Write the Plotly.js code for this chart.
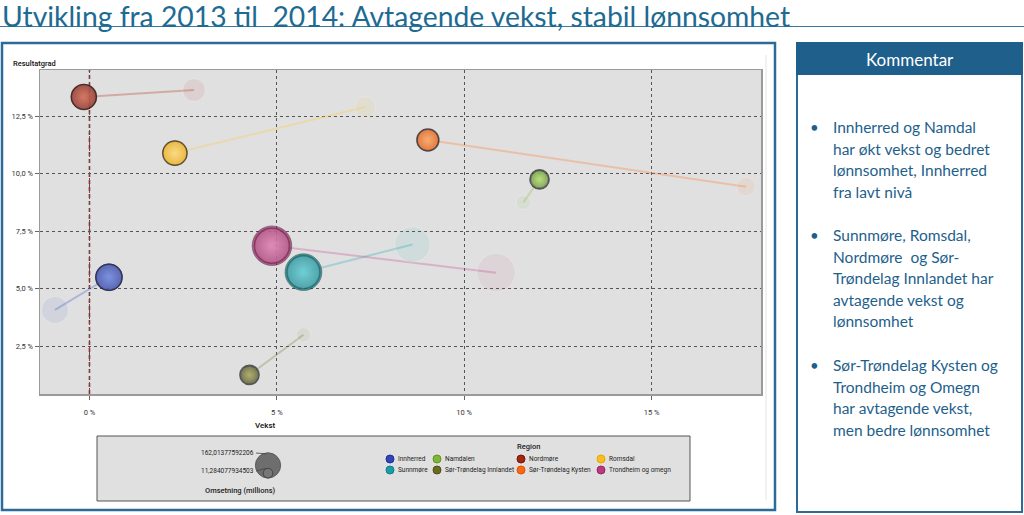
<!DOCTYPE html>
<html><head><meta charset="utf-8">
<script src="https://cdn.plot.ly/plotly-3.0.1.min.js"></script>
<style>html,body{margin:0;padding:0;background:#fff;overflow:hidden}#chart{width:1024px;height:515px}</style>
</head><body><div id="chart"></div>
<script>
// ---------- data ----------
const regions = ['Innherred','Namdalen','Nordmøre','Romsdal','Sunnmøre','Sør-Trøndelag Innlandet','Sør-Trøndelag Kysten','Trondheim og omegn'];
const vekst2013     = [-0.92, 11.58,  2.79,  7.36, 8.62, 5.71, 17.52, 10.85];
const resultat2013  = [ 4.08,  8.75, 13.63, 12.89, 6.92, 3.00,  9.43,  5.70];
const vekst2014     = [ 0.52, 12.01, -0.15,  2.28, 5.71, 4.27,  9.03,  4.87];
const resultat2014  = [ 5.50,  9.75, 13.33, 10.89, 5.72, 1.26, 11.46,  6.87];
const omsetning2013 = [75, 21, 53, 46, 129, 21, 35, 151];
const omsetning2014 = [75, 30, 67, 60, 140, 30, 46, 162];
const xTickVals = [0, 5, 10, 15];
const xTickText = ['0 %', '5 %', '10 %', '15 %'];
const yTickVals = [2.5, 5, 7.5, 10, 12.5];
const yTickText = ['2,5 %', '5,0 %', '7,5 %', '10,0 %', '12,5 %'];
const sizeLegendValues = [162.01377592206, 11.284077934503];
const sizeLegendLabels = ['162,01377592206', '11,284077934503'];
const titleText = 'Utvikling fra 2013 til\u00a0 2014: Avtagende vekst, stabil lønnsomhet';
const commentBlocks = [
  ['Innherred og Namdal', 'har økt vekst og bedret', 'lønnsomhet, Innherred', 'fra lavt nivå'],
  ['Sunnmøre, Romsdal,', 'Nordmøre\u00a0 og Sør-', 'Trøndelag Innlandet har', 'avtagende vekst og', 'lønnsomhet'],
  ['Sør-Trøndelag Kysten og', 'Trondheim og Omegn', 'har avtagende vekst,', 'men bedre lønnsomhet']
];

// ---------- styles ----------
const lightColors = ['#4d6fe0','#a6d957','#d04a2c','#ffd65a','#3cc6cf','#9a9840','#ff9440','#dc66a6'];
const baseColors  = ['#1f2f95','#5f9420','#7a1206','#eca400','#0f7f88','#4e4d12','#e04e00','#9a2464'];
const legendColors = ['#2e46b8','#7fb637','#a02714','#f8be20','#1a9da6','#6c6b22','#f56a12','#b73c7e'];
const rgb = ['53,82,196','140,193,62','179,48,26','255,198,46','31,169,178','123,122,42','255,119,32','194,72,138'];
const SIZEREF = 162 / (28 * 28);

const L = 40, T = 70, W = 721, H = 324;
const px = x => (x - L) / W;
const py = y => (T + H - y) / H;

const traces = [];
regions.forEach((r, i) => {
  traces.push({
    x: [vekst2013[i], vekst2014[i]], y: [resultat2013[i], resultat2014[i]],
    mode: 'lines', line: {color: 'rgba(' + rgb[i] + ',0.3)', width: 2},
    showlegend: false, hoverinfo: 'skip'
  });
});
regions.forEach((r, i) => {
  traces.push({
    x: [vekst2013[i]], y: [resultat2013[i]], mode: 'markers', showlegend: false,
    marker: {size: [omsetning2013[i]], sizemode: 'area', sizeref: SIZEREF,
             color: 'rgba(' + rgb[i] + ',0.11)', line: {width: 1, color: 'rgba(255,255,255,0.3)'}}
  });
});
regions.forEach((r, i) => {
  const d = Math.sqrt(omsetning2014[i] / SIZEREF);
  traces.push({
    x: [vekst2014[i]], y: [resultat2014[i]], mode: 'markers', showlegend: false,
    marker: {size: [d + 7], sizemode: 'diameter', color: '#eeeeee', line: {width: 1.6, color: '#1e1e1e'}}
  });
  traces.push({
    x: [vekst2014[i]], y: [resultat2014[i]], mode: 'markers', name: r, showlegend: false,
    marker: {size: [omsetning2014[i]], sizemode: 'area', sizeref: SIZEREF, color: baseColors[i],
             gradient: {type: 'radial', color: lightColors[i]},
             line: {width: 0.8, color: 'rgba(20,20,20,0.7)'}}
  });
});

const shapes = [];
const annotations = [];
function ann(text, x, y, o) {
  o = o || {};
  annotations.push(Object.assign({
    text: text, xref: 'paper', yref: 'paper', x: px(x), y: py(y), showarrow: false,
    xanchor: 'left', yanchor: 'middle',
    font: {family: 'Roboto, sans-serif', size: 7.5, color: '#222'}
  }, o));
}
function rect(x0, y0, x1, y1, o) {
  shapes.push(Object.assign({type: 'rect', xref: 'paper', yref: 'paper',
    x0: px(x0), x1: px(x1), y0: py(y1), y1: py(y0), layer: 'below'}, o));
}
function circle(cx, cy, d, o) {
  shapes.push(Object.assign({type: 'circle', xref: 'paper', yref: 'paper',
    xsizemode: 'pixel', ysizemode: 'pixel', xanchor: px(cx), yanchor: py(cy),
    x0: -d / 2, x1: d / 2, y0: -d / 2, y1: d / 2, layer: 'above'}, o));
}
function segment(x0, y0, x1, y1, o) {
  shapes.push(Object.assign({type: 'line', xref: 'paper', yref: 'paper',
    x0: px(x0), x1: px(x1), y0: py(y0), y1: py(y1), layer: 'above'}, o));
}

// page title + underline
ann(titleText, 1, -2.5, {yanchor: 'top', borderpad: 0, font: {family: 'Lato, sans-serif', size: 28.3, color: '#1d6b93'}});
segment(0, 26.5, 1024, 26.5, {line: {color: '#3a78a5', width: 1.2}});

// chart frame
rect(2, 43, 775, 510, {line: {color: '#2b6a99', width: 2.5}, fillcolor: 'rgba(0,0,0,0)'});
segment(766, 55, 766, 500, {line: {color: '#e4e4e4', width: 1}, layer: 'below'});

// zero line (red dashed)
shapes.push({type: 'line', xref: 'x', yref: 'paper', x0: 0, x1: 0, y0: 0, y1: 1,
  line: {color: '#9c2a2a', width: 1.6, dash: '4px,3px'}, layer: 'between'});

// axis titles
ann('Resultatgrad', 11, 64, {font: {family: 'Roboto, sans-serif', size: 7.5, color: '#111', weight: 500}});
ann('Vekst', 253, 425, {font: {family: 'Roboto, sans-serif', size: 8, color: '#111', weight: 500}});

// legend box
rect(97, 436, 690, 501, {line: {color: '#555', width: 1}, fillcolor: '#e0e0e0'});
ann('Region', 528, 446, {xanchor: 'center', font: {family: 'Roboto, sans-serif', size: 7.5, color: '#222', weight: 500}});
const colX = [390, 437, 521, 601];
const rowY = [459, 470];
regions.forEach((r, i) => {
  const cx = colX[i % 4], cy = rowY[Math.floor(i / 4)];
  circle(cx, cy, 8, {fillcolor: legendColors[i], line: {color: baseColors[i], width: 1}});
  ann(r, cx + 6, cy, {font: {family: 'Roboto, sans-serif', size: 6.5, color: '#222'}});
});
// size legend
const dBig = Math.sqrt(sizeLegendValues[0] / SIZEREF) * 0.9;
const dSmall = Math.sqrt(sizeLegendValues[1] / SIZEREF) * 1.3;
const bottomY = 478;
circle(268, bottomY - dBig / 2, dBig, {fillcolor: '#6e6e6e', line: {color: '#5a5a5a', width: 1}});
circle(268, bottomY - dSmall / 2, dSmall, {fillcolor: '#777', line: {color: '#444', width: 1}});
segment(256, 453, 266, bottomY - dBig + 1, {line: {color: '#444', width: 0.8}});
segment(256, 471, 266, bottomY - dSmall, {line: {color: '#444', width: 0.8}});
ann(sizeLegendLabels[0], 256, 453, {xanchor: 'right', font: {family: 'Roboto, sans-serif', size: 6.5, color: '#222'}});
ann(sizeLegendLabels[1], 256, 471, {xanchor: 'right', font: {family: 'Roboto, sans-serif', size: 6.5, color: '#222'}});
ann('Omsetning (millions)', 240, 490, {xanchor: 'center', font: {family: 'Roboto, sans-serif', size: 7.5, color: '#222', weight: 500}});

// comment panel
rect(797, 43, 1022, 512, {line: {color: '#2b6a99', width: 2}, fillcolor: '#ffffff'});
rect(797, 43, 1022, 74, {line: {color: '#1f5f8b', width: 2}, fillcolor: '#1f5f8b'});
ann('Kommentar', 910, 59, {xanchor: 'center', font: {family: 'Lato, sans-serif', size: 17, color: '#ffffff'}});
const blockStart = [127, 235, 365];
const lineH = 21.5;
commentBlocks.forEach((blk, b) => {
  ann('•', 814, blockStart[b], {xanchor: 'center', font: {family: 'Lato, sans-serif', size: 15, color: '#1e5f8c'}});
  blk.forEach((ln, k) => {
    ann(ln, 831, blockStart[b] + k * lineH, {font: {family: 'Lato, sans-serif', size: 15.5, color: '#1e5f8c'}});
  });
});

const axisFont = {family: 'Roboto, sans-serif', size: 7.5, color: '#333'};
const layout = {
  width: 1024, height: 515,
  margin: {l: L, r: 1024 - L - W, t: T, b: 515 - T - H, pad: 0},
  paper_bgcolor: '#ffffff', plot_bgcolor: '#e0e0e0',
  showlegend: false, hovermode: false,
  xaxis: {range: [-1.32, 17.92], tickvals: xTickVals, ticktext: xTickText, tickfont: axisFont,
          showgrid: true, gridcolor: '#555', griddash: '3px,3px', gridwidth: 1, zeroline: false,
          showline: true, mirror: true, linecolor: '#9a9a9a', linewidth: 1.5,
          ticks: 'outside', ticklen: 4, tickcolor: '#666', ticklabelstandoff: 6},
  yaxis: {range: [0.43, 14.5], tickvals: yTickVals, ticktext: yTickText, tickfont: axisFont,
          showgrid: true, gridcolor: '#555', griddash: '3px,3px', gridwidth: 1, zeroline: false,
          showline: true, mirror: true, linecolor: '#9a9a9a', linewidth: 1.5,
          ticks: 'outside', ticklen: 4, tickcolor: '#666'},
  shapes: shapes, annotations: annotations
};
Plotly.newPlot('chart', traces, layout, {displayModeBar: false, staticPlot: true});
</script></body></html>
